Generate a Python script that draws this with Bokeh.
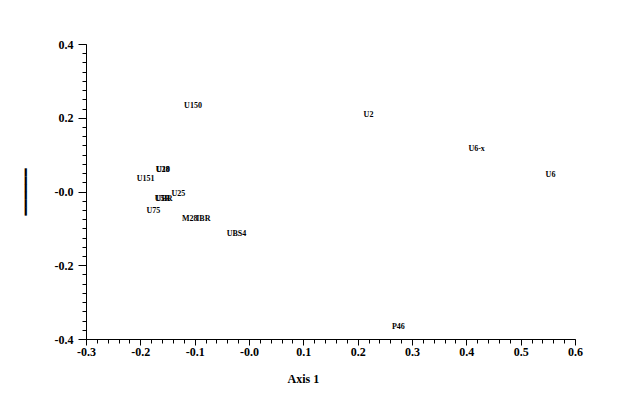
from bokeh.plotting import figure
from bokeh.models import ColumnDataSource, FixedTicker, Range1d, Title
from bokeh.core.properties import value
from bokeh.embed import file_html
from bokeh.resources import INLINE

# Site labels and ordination scores (Axis 1, Axis 2)
names = ["U150", "U2", "U6-x", "U6", "P46", "U28", "U10", "U151", "U25",
         "U5R", "UBR", "U75", "M28", "IBR", "UBS4"]
axis1 = [-0.104, 0.219, 0.418, 0.554, 0.274, -0.160, -0.159, -0.191, -0.131,
         -0.160, -0.157, -0.177, -0.110, -0.085, -0.024]
axis2 = [0.234, 0.210, 0.118, 0.047, -0.364, 0.061, 0.060, 0.037, -0.004,
         -0.018, -0.018, -0.050, -0.072, -0.072, -0.112]

x_major = [-0.3, -0.2, -0.1, 0.0, 0.1, 0.2, 0.3, 0.4, 0.5, 0.6]
x_labels = ["-0.3", "-0.2", "-0.1", "-0.0", "0.1", "0.2", "0.3", "0.4", "0.5", "0.6"]
y_major = [-0.4, -0.2, 0.0, 0.2, 0.4]
y_labels = ["-0.4", "-0.2", "-0.0", "0.2", "0.4"]

x_minor = [round(-0.3 + 0.02 * i, 4) for i in range(46)]
y_minor = [round(-0.4 + 0.025 * i, 4) for i in range(33)]

FONT = "Liberation Serif"

p = figure(frame_width=489, frame_height=295, output_backend="svg",
           toolbar_location=None,
           x_range=Range1d(-0.3, 0.6), y_range=Range1d(-0.4, 0.4),
           min_border_left=86, min_border_right=49, min_border_top=44,
           min_border_bottom=20)
p.outline_line_color = None
p.grid.visible = False
p.background_fill_color = "white"
p.border_fill_color = "white"

src = ColumnDataSource(dict(x=axis1, y=axis2, name=names))
p.text(x="x", y="y", text="name", source=src, text_align="center",
       text_baseline="middle", text_font=value(FONT), text_font_style="bold",
       text_font_size="8px", text_color="black")

for ax, major, labels, minor, mlen, sto in (
        (p.xaxis[0], x_major, x_labels, x_minor, 6, 2),
        (p.yaxis[0], y_major, y_labels, y_minor, 8, 5)):
    ax.ticker = FixedTicker(ticks=major, minor_ticks=minor)
    ax.major_label_overrides = {float(t): l for t, l in zip(major, labels)}
    ax.major_label_text_font = FONT
    ax.major_label_text_font_style = "bold"
    ax.major_label_text_font_size = "12px"
    ax.major_label_text_color = "black"
    ax.axis_line_color = "black"
    ax.major_tick_line_color = "black"
    ax.minor_tick_line_color = "black"
    ax.major_tick_in = 0
    ax.major_tick_out = mlen
    ax.minor_tick_in = 0
    ax.minor_tick_out = 4
    ax.major_label_standoff = sto

p.yaxis[0].major_label_orientation = "horizontal"
p.yaxis[0].axis_label = "━━━━━━"
p.yaxis[0].axis_label_text_font = "DejaVu Sans"
p.yaxis[0].axis_label_text_font_size = "13px"
p.yaxis[0].axis_label_text_font_style = "bold"
p.yaxis[0].axis_label_text_color = "black"
p.yaxis[0].axis_label_standoff = 19

p.add_layout(Title(text="Axis 1", align="left", offset=201, standoff=22,
                   text_font=FONT, text_font_style="bold",
                   text_font_size="12px", text_color="black"), "below")

open("out.html", "w").write(file_html(p, INLINE))
